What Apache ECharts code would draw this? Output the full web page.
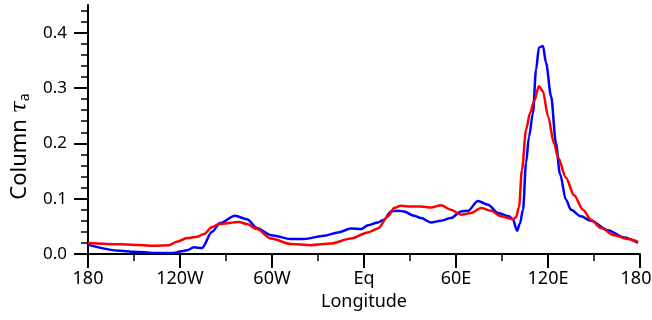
<!DOCTYPE html>
<html>
<head>
<meta charset="utf-8">
<script src="https://cdn.jsdelivr.net/npm/echarts@6/dist/echarts.min.js"></script>
<style>html,body{margin:0;padding:0;background:#fff}#c{width:652px;height:320px}</style>
</head>
<body>
<div id="c"></div>
<script>
var blueLon = [-180,-159.1,-150,-137,-124,-119.3,-115.4,-110.9,-105.7,-99.1,-93.9,-84.1,-76.3,-69.8,-60.7,-47.6,-39.1,-26.1,-17,-8.5,-2,2.6,9.1,13,17.6,22.2,26.1,32.6,37.2,43.7,50.2,56.7,63.3,67.8,74.3,80.9,87.4,94.6,97.2,99.8,101.7,103.7,105.7,107.6,110.2,112.2,114.1,116.7,118.7,122,125.2,127.8,131.7,135,141.5,148,159.1,169.6,178.7];
var blueVal = [0.017,0.006,0.004,0.002,0.002,0.005,0.007,0.012,0.011,0.040,0.056,0.069,0.063,0.047,0.034,0.027,0.027,0.033,0.039,0.046,0.045,0.052,0.057,0.062,0.077,0.078,0.077,0.069,0.065,0.057,0.060,0.065,0.077,0.078,0.096,0.089,0.074,0.068,0.062,0.042,0.055,0.080,0.165,0.212,0.255,0.333,0.373,0.376,0.346,0.285,0.200,0.145,0.098,0.080,0.068,0.060,0.043,0.030,0.020];
var redLon = [-180,-159.1,-137,-127.2,-122,-115.4,-108.9,-104.3,-99.1,-94.6,-81.5,-76.3,-69.8,-60.7,-47.6,-34.6,-21.5,-8.5,2.6,9.1,15.7,19.6,24.1,30.7,37.2,43.7,50.2,56.7,63.3,69.8,76.3,82.8,89.3,97.2,99.1,101.1,103,105.7,108.3,110.9,114.1,116.7,120,123.9,126.5,131.7,137,142.8,148,154.6,163,172.2,178.7];
var redVal = [0.020,0.0176,0.015,0.016,0.022,0.029,0.031,0.036,0.049,0.054,0.058,0.054,0.045,0.028,0.018,0.016,0.019,0.028,0.039,0.046,0.068,0.083,0.087,0.086,0.086,0.084,0.088,0.080,0.071,0.074,0.083,0.078,0.068,0.063,0.066,0.085,0.152,0.225,0.255,0.276,0.303,0.294,0.249,0.200,0.175,0.138,0.106,0.080,0.062,0.047,0.034,0.027,0.022];
var yTicks = [0, 0.1, 0.2, 0.3, 0.4];

function pairs(xs, ys) { return xs.map(function (x, i) { return [x, ys[i]]; }); }
function lonLabel(v) {
  if (v === 180) return '{r|180}';
  if (v === -180) return '180';
  if (v === 0) return 'Eq';
  return v < 0 ? (-v) + 'W' : v + 'E';
}
var font = 'Noto Sans';
var chart = echarts.init(document.getElementById('c'), null, { renderer: 'canvas' });
chart.setOption({
  animation: false,
  backgroundColor: '#fff',
  grid: { left: 88, right: 12, top: 5, bottom: 66, containLabel: false, outerBoundsMode: 'none' },
  xAxis: {
    type: 'value', min: -180, max: 180, interval: 60,
    name: 'Longitude', nameLocation: 'middle', nameGap: 38,
    nameTextStyle: { fontFamily: font, fontSize: 18, color: '#000' },
    axisLine: { show: true, onZero: false, lineStyle: { color: '#000', width: 2 } },
    axisTick: { show: true, length: 14, lineStyle: { color: '#000', width: 2 } },
    minorTick: { show: true, splitNumber: 2, length: 7, lineStyle: { color: '#000', width: 1.5 } },
    splitLine: { show: false },
    axisLabel: { formatter: lonLabel, fontFamily: font, fontSize: 18, color: '#000', margin: 16,
      rich: { r: { fontFamily: font, fontSize: 18, color: '#000', padding: [0, 8, 0, 0] } } }
  },
  yAxis: {
    type: 'value', min: 0, max: 0.45, interval: 0.1,
    name: 'Column {t|τ}{s|a}', nameLocation: 'middle', nameGap: 50,
    nameTextStyle: {
      fontFamily: font, fontSize: 22, color: '#000', padding: [0, 34, 0, 0],
      rich: {
        t: { fontFamily: 'DejaVu Serif', fontStyle: 'italic', fontSize: 22, color: '#000' },
        s: { fontFamily: font, fontSize: 14, color: '#000', padding: [10, 0, 0, 0] }
      }
    },
    axisLine: { show: true, onZero: false, lineStyle: { color: '#000', width: 2 } },
    axisTick: { show: true, length: 14, customValues: yTicks, lineStyle: { color: '#000', width: 2 } },
    minorTick: { show: true, splitNumber: 5, length: 7, lineStyle: { color: '#000', width: 1.5 } },
    splitLine: { show: false },
    axisLabel: { customValues: yTicks, formatter: function (v) { return v.toFixed(1); }, fontFamily: font, fontSize: 17, color: '#000', margin: 21 }
  },
  series: [
    { type: 'line', data: pairs(blueLon, blueVal), showSymbol: false, smooth: 0.3, smoothMonotone: 'x',
      lineStyle: { color: '#0000ff', width: 2.5 }, itemStyle: { color: '#0000ff' } },
    { type: 'line', data: pairs(redLon, redVal), showSymbol: false, smooth: 0.3, smoothMonotone: 'x',
      lineStyle: { color: '#ff0000', width: 2.5 }, itemStyle: { color: '#ff0000' } }
  ]
});
</script>
</body>
</html>
